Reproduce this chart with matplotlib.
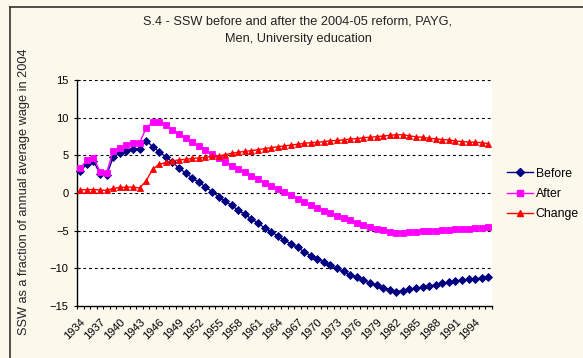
import numpy as np
import matplotlib
matplotlib.use("Agg")
import matplotlib.pyplot as plt
from matplotlib.lines import Line2D
from matplotlib.transforms import ScaledTranslation

# Cohort years (birth year of the retiree)
years = list(range(1934, 1997))

# SSW as a fraction of the 2004 annual average wage
before = [2.9, 3.85, 4.3, 2.5, 2.35, 4.8, 5.25, 5.6, 5.8, 5.9,
          6.95, 6.15, 5.45, 4.8, 4.1, 3.3, 2.65, 2.0,
          1.42, 0.84, 0.18, -0.49, -1.11, -1.64, -2.3, -2.83, -3.45,
          -3.98, -4.65, -5.13, -5.71, -6.24, -6.77, -7.21, -7.79,
          -8.3, -8.72, -9.18, -9.6, -10.02, -10.42, -10.85, -11.2,
          -11.57, -11.95, -12.27,
          -12.55, -12.85, -13.1, -12.95, -12.79, -12.65, -12.52, -12.35,
          -12.2, -12.0, -11.86, -11.73, -11.6, -11.46, -11.4, -11.3, -11.2]

after = [3.27, 4.38, 4.69, 2.83, 2.7, 5.62, 6.02, 6.37, 6.68, 6.68,
         8.58, 9.47, 9.47, 8.98, 8.36, 7.83, 7.3, 6.77,
         6.28, 5.71, 5.18, 4.6, 4.11, 3.63, 3.19, 2.74, 2.3,
         1.81, 1.37, 0.97, 0.53, 0.09, -0.31, -0.75, -1.15,
         -1.59, -1.99, -2.35, -2.7, -3.05, -3.32, -3.58, -3.94,
         -4.25, -4.47, -4.73,
         -4.93, -5.2, -5.37, -5.27, -5.18, -5.16, -5.09, -5.05,
         -5.0, -4.93, -4.9, -4.82, -4.78, -4.73, -4.65, -4.63, -4.56]

change = [0.4, 0.45, 0.45, 0.4, 0.35, 0.6, 0.75, 0.75, 0.8, 0.65,
          1.6, 3.2, 3.8, 4.05, 4.25, 4.4, 4.45, 4.6,
          4.65, 4.73, 4.85, 4.91, 5.09, 5.27, 5.4, 5.53, 5.62,
          5.75, 5.88, 6.02, 6.15, 6.24, 6.37, 6.46, 6.59,
          6.68, 6.73, 6.81, 6.95, 6.97, 7.04, 7.17, 7.21,
          7.35, 7.39, 7.48,
          7.57, 7.65, 7.74, 7.72, 7.6, 7.45, 7.4, 7.25,
          7.2, 7.08, 7.05, 6.9, 6.82, 6.77, 6.73, 6.68, 6.55]

series_names = ["Before", "After", "Change"]
title_lines = ["S.4 - SSW before and after the 2004-05 reform, PAYG,",
               "Men, University education"]
y_label = "SSW as a fraction of annual average wage in 2004"

W, H = 583, 358
BG = "#FCF8EC"
FONT = "Liberation Sans"
plt.rcParams["font.family"] = [FONT, "DejaVu Sans"]

fig = plt.figure(figsize=(W / 100, H / 100), dpi=100, facecolor=BG)

def fx(px):
    return px / W

def fy(py):
    return 1 - py / H

ax = fig.add_axes([fx(77), fy(306), fx(491.7) - fx(77), fy(80) - fy(306)])
ax.set_facecolor("white")

x = np.arange(len(years))
styles = [
    dict(color="#000080", marker="D", ms=3.6),
    dict(color="#FF00FF", marker="s", ms=4.4),
    dict(color="#FF0000", marker="^", ms=5.0),
]
for vals, name, st in zip([before, after, change], series_names, styles):
    ax.plot(x, vals, color=st["color"], lw=1.0, marker=st["marker"],
            ms=st["ms"], mfc=st["color"], mec=st["color"], mew=0.6,
            label=name, clip_on=False, zorder=3)

ax.set_xlim(-0.5, len(years) - 0.5)
ax.set_ylim(-15, 15)

# horizontal dashed gridlines
ax.set_yticks(np.arange(-15, 16, 5))
for yv in [-10, -5, 0, 5, 10, 15]:
    ax.axhline(yv, color="black", lw=0.8, ls=(0, (2.6, 2.6)), zorder=1)

# category axis: ticks on category boundaries, labels every third year
ax.set_xticks(x[::3])
ax.set_xticklabels([str(years[i]) for i in x[::3]], rotation=45,
                   ha="right", va="top", rotation_mode="anchor",
                   fontsize=8)
shift = ScaledTranslation(-9 / 100, 0, fig.dpi_scale_trans)
for lab in ax.get_xticklabels():
    lab.set_transform(lab.get_transform() + shift)
ax.set_xticks(np.arange(-0.5, len(years), 1), minor=True)
ax.tick_params(axis="x", which="major", length=0, pad=8)
ax.tick_params(axis="x", which="minor", length=2.4, width=0.8,
               direction="out", color="black")
ax.tick_params(axis="y", which="major", length=4, width=0.8,
               direction="inout", labelsize=8, pad=4, color="black")

for s in ["top", "right"]:
    ax.spines[s].set_visible(False)
for s in ["left", "bottom"]:
    ax.spines[s].set_color("black")
    ax.spines[s].set_linewidth(1.0)

# titles
fig.text(fx(298), fy(21), title_lines[0], ha="center", va="center",
         fontsize=9.2, color="#222222")
fig.text(fx(298), fy(39), title_lines[1], ha="center", va="center",
         fontsize=9.2, color="#222222")
fig.text(fx(24), fy(192), y_label, rotation=90, ha="center", va="center",
         fontsize=9.2, color="#222222")

# legend
handles = [Line2D([], [], color=st["color"], lw=1.0, marker=st["marker"],
                  ms=st["ms"], mfc=st["color"], mec=st["color"])
           for st in styles]
fig.legend(handles, series_names, loc="center left",
           bbox_to_anchor=(fx(501), fy(194)), frameon=False,
           fontsize=8.8, handlelength=2.1, handletextpad=0.25,
           labelspacing=0.68, borderpad=0)

# chart frame (left and top edges)
fig.add_artist(Line2D([fx(10), fx(10)], [fy(7), 0], color="#333333",
                      lw=1.2, transform=fig.transFigure))
fig.add_artist(Line2D([fx(10), 1], [fy(7), fy(7)], color="#333333",
                      lw=1.2, transform=fig.transFigure))

fig.savefig("out.png", dpi=100, facecolor=BG)
